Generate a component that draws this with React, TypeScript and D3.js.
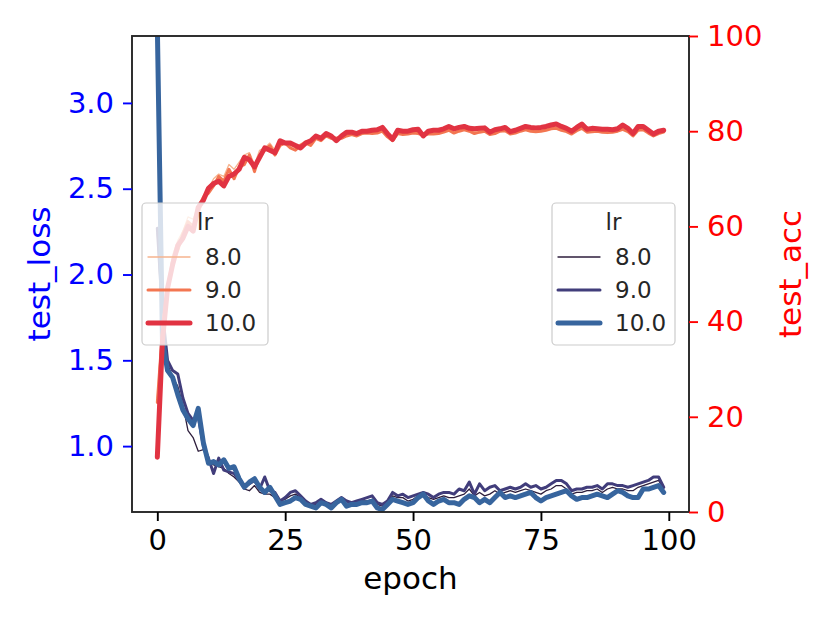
import { useEffect, useRef } from 'react';
import * as d3 from 'd3';

// values, one per epoch (0..99)
const epochs = d3.range(100);
const lrLabels = ['8.0', '9.0', '10.0'];

const lossLr8 = [
  2.24, 1.70, 1.48, 1.40, 1.35, 1.24, 1.09, 1.05, 0.97, 0.98,
  0.92, 0.89, 0.88, 0.87, 0.84, 0.82, 0.79, 0.75, 0.74, 0.77,
  0.73, 0.72, 0.72, 0.70, 0.68, 0.69, 0.71, 0.72, 0.70, 0.67,
  0.65, 0.66, 0.68, 0.66, 0.65, 0.67, 0.68, 0.66, 0.66, 0.67,
  0.68, 0.68, 0.69, 0.66, 0.65, 0.67, 0.71, 0.70, 0.70, 0.68,
  0.69, 0.71, 0.72, 0.70, 0.69, 0.70, 0.71, 0.70, 0.70, 0.71,
  0.72, 0.75, 0.71, 0.73, 0.71, 0.72, 0.74, 0.72, 0.73, 0.74,
  0.73, 0.74, 0.75, 0.74, 0.73, 0.72, 0.74, 0.75, 0.77, 0.77,
  0.75, 0.72, 0.73, 0.73, 0.74, 0.74, 0.75, 0.73, 0.75, 0.76,
  0.75, 0.75, 0.74, 0.74, 0.76, 0.77, 0.78, 0.79, 0.80, 0.75,
];
const lossLr9 = [
  2.27, 1.78, 1.50, 1.44, 1.42, 1.28, 1.19, 1.15, 1.17, 1.00,
  0.93, 0.84, 0.93, 0.86, 0.85, 0.84, 0.80, 0.77, 0.78, 0.80,
  0.75, 0.82, 0.74, 0.73, 0.68, 0.70, 0.73, 0.74, 0.71, 0.68,
  0.66, 0.67, 0.69, 0.67, 0.66, 0.68, 0.70, 0.68, 0.67, 0.68,
  0.69, 0.70, 0.71, 0.67, 0.66, 0.68, 0.73, 0.71, 0.72, 0.70,
  0.71, 0.72, 0.73, 0.72, 0.70, 0.72, 0.73, 0.73, 0.72, 0.75,
  0.74, 0.79, 0.72, 0.78, 0.74, 0.76, 0.77, 0.74, 0.75, 0.76,
  0.75, 0.76, 0.78, 0.76, 0.77, 0.75, 0.76, 0.78, 0.80, 0.80,
  0.78, 0.74, 0.75, 0.75, 0.76, 0.76, 0.77, 0.75, 0.78, 0.78,
  0.77, 0.77, 0.76, 0.77, 0.78, 0.79, 0.80, 0.82, 0.82, 0.76,
];
const lossLr10 = [
  3.45, 1.62, 1.44, 1.40, 1.30, 1.21, 1.16, 1.12, 1.22, 1.02,
  0.90, 0.91, 0.89, 0.92, 0.87, 0.88, 0.81, 0.76, 0.79, 0.81,
  0.76, 0.73, 0.76, 0.71, 0.66, 0.67, 0.68, 0.70, 0.69, 0.66,
  0.65, 0.64, 0.67, 0.66, 0.64, 0.67, 0.69, 0.65, 0.66, 0.66,
  0.67, 0.67, 0.68, 0.64, 0.63, 0.66, 0.69, 0.68, 0.67, 0.66,
  0.67, 0.70, 0.72, 0.68, 0.66, 0.68, 0.69, 0.67, 0.67, 0.66,
  0.69, 0.71, 0.70, 0.67, 0.69, 0.67, 0.70, 0.73, 0.70, 0.71,
  0.70, 0.71, 0.72, 0.73, 0.70, 0.68, 0.70, 0.71, 0.72, 0.73,
  0.74, 0.71, 0.69, 0.70, 0.70, 0.71, 0.72, 0.71, 0.70, 0.72,
  0.74, 0.73, 0.71, 0.70, 0.70, 0.75, 0.75, 0.76, 0.77, 0.73,
];

const accLr8 = [
  24, 40, 48, 54, 57, 59, 62, 61.5, 64.5, 66.5,
  68, 70, 71, 70.5, 73, 72, 73.5, 75, 75.5, 73,
  76, 76.5, 77.5, 76, 77.5, 77.8, 77, 76.5, 77.3, 78,
  77.5, 78.8, 78.2, 79.2, 79, 78.7, 79, 79.3, 79.5, 79.3,
  79.7, 79.8, 79.8, 79.9, 80.2, 79, 78.6, 79.8, 79.6, 79.7,
  79.9, 79.9, 79.5, 79.7, 79.8, 79.9, 80.1, 80.5, 80, 80.3,
  80.5, 80.2, 79.9, 80.1, 80.3, 79.6, 79.9, 80.3, 80.4, 79.7,
  79.9, 80.3, 80.6, 80.3, 80.2, 80.3, 80.5, 80.8, 80.9, 80.5,
  80.2, 79.8, 80.4, 80.9, 80.1, 80.2, 80.3, 80.1, 80, 80.1,
  80.3, 80.7, 80.2, 79.4, 80.5, 80.6, 79.9, 79.3, 79.8, 80.1,
];
const accLr9 = [
  23, 38, 46, 53, 55, 58.5, 61, 60, 63, 66,
  67, 68.5, 70.5, 69.5, 72, 70, 72.5, 73, 75, 71.5,
  75, 76, 77, 75, 77, 77.5, 76.5, 76, 77, 77.5,
  77, 78.5, 78, 79, 78.5, 78.5, 78.5, 79, 79.3, 79,
  79.5, 79.6, 79.5, 79.6, 80, 78.8, 78, 79.5, 79.3, 79.4,
  79.6, 79.5, 79.2, 79.4, 79.4, 79.5, 79.8, 80.2, 79.6, 80,
  80.3, 80, 79.5, 79.8, 80, 79.3, 79.5, 80, 80.1, 79.4,
  79.6, 80, 80.3, 80, 79.9, 80, 80.2, 80.5, 80.6, 80.2,
  79.9, 79.4, 80.1, 80.6, 79.8, 79.9, 80, 79.8, 79.7, 79.8,
  80, 80.4, 79.9, 79, 80.2, 80.3, 79.6, 79, 79.5, 79.8,
];
const accLr10 = [
  11.5, 36, 47, 52, 56, 57.5, 60, 59, 64, 65.5,
  68, 69, 69.5, 68.5, 70.5, 71, 72, 74.5, 74, 72.5,
  74.5, 76.5, 76, 75.5, 78, 77.5, 77.5, 77, 76.5, 77.5,
  78, 79, 78.5, 79.5, 79, 78, 79, 79.8, 79.8, 79.5,
  80, 80, 80.2, 80.3, 80.8, 79.5, 78.3, 80.2, 80, 80,
  80.3, 80.4, 79, 80, 80.2, 80.2, 80.5, 81, 80.5, 80.8,
  81, 80.6, 80.5, 80.6, 80.7, 79.8, 80.3, 80.5, 80.8, 79.9,
  80.2, 80.6, 81, 80.8, 80.7, 80.8, 81, 81.3, 81.5, 81,
  80.6, 80, 80.8, 81.5, 80.4, 80.6, 80.5, 80.4, 80.4, 80.3,
  80.5, 81.3, 80.6, 79.5, 81, 81, 80.2, 79.4, 80, 80.2,
];

const xTicks = [0, 25, 50, 75, 100];
const lossTicks = [1.0, 1.5, 2.0, 2.5, 3.0];
const accTicks = [0, 20, 40, 60, 80, 100];

const lossColors = ['#2e1e3c', '#413d7b', '#37659e'];
const accColors = ['#f6b48f', '#f37651', '#e13342'];
const widths = [1.3, 3, 5];

export default function App() {
  const svgRef = useRef<SVGSVGElement>(null);

  useEffect(() => {
    if (!svgRef.current) return;
    document.body.style.margin = '0';
    d3.select(svgRef.current).selectAll('*').remove();

    const width = 830;
    const height = 623;
    const margin = { top: 36, right: 141, bottom: 111, left: 132 };
    const font = 'DejaVu Sans, sans-serif';

    const svg = d3.select(svgRef.current)
      .attr('width', width)
      .attr('height', height)
      .style('font-family', font);

    svg.append('rect').attr('width', width).attr('height', height).attr('fill', 'white');

    const x = d3.scaleLinear().domain([-4.95, 103.95]).range([margin.left, width - margin.right]);
    const yLoss = d3.scaleLinear().domain([0.616, 3.39]).range([height - margin.bottom, margin.top]);
    const yAcc = d3.scaleLinear().domain([0, 100]).range([height - margin.bottom, margin.top]);

    svg.append('clipPath').attr('id', 'plot-clip')
      .append('rect')
      .attr('x', margin.left)
      .attr('y', margin.top)
      .attr('width', width - margin.left - margin.right)
      .attr('height', height - margin.top - margin.bottom);

    const lossSeries = [lossLr8, lossLr9, lossLr10];
    const accSeries = [accLr8, accLr9, accLr10];

    const lossLine = d3.line<number>().x((_, i) => x(epochs[i])).y(d => yLoss(d));
    const accLine = d3.line<number>().x((_, i) => x(epochs[i])).y(d => yAcc(d));

    const plot = svg.append('g').attr('clip-path', 'url(#plot-clip)');

    // loss lines (left axis)
    lossSeries.forEach((s, i) => {
      plot.append('path')
        .attr('d', lossLine(s))
        .attr('fill', 'none')
        .attr('stroke', lossColors[i])
        .attr('stroke-width', widths[i])
        .attr('stroke-linejoin', 'round')
        .attr('stroke-linecap', 'round');
    });

    // accuracy lines (right axis, drawn on top)
    accSeries.forEach((s, i) => {
      plot.append('path')
        .attr('d', accLine(s))
        .attr('fill', 'none')
        .attr('stroke', accColors[i])
        .attr('stroke-width', widths[i])
        .attr('stroke-linejoin', 'round')
        .attr('stroke-linecap', 'round');
    });

    // frame
    svg.append('rect')
      .attr('x', margin.left)
      .attr('y', margin.top)
      .attr('width', width - margin.left - margin.right)
      .attr('height', height - margin.top - margin.bottom)
      .attr('fill', 'none')
      .attr('stroke', '#262626')
      .attr('stroke-width', 1.9);

    // x axis
    const xAxis = svg.append('g')
      .attr('transform', `translate(0,${height - margin.bottom})`)
      .call(d3.axisBottom(x).tickValues(xTicks).tickFormat(d3.format('d')).tickSize(9).tickPadding(8));
    xAxis.select('.domain').remove();
    xAxis.selectAll('line').attr('stroke', '#000').attr('stroke-width', 1.9);
    xAxis.selectAll('text').attr('fill', '#000').style('font-size', '29px').style('font-family', font);

    // left axis
    const leftAxis = svg.append('g')
      .attr('transform', `translate(${margin.left},0)`)
      .call(d3.axisLeft(yLoss).tickValues(lossTicks).tickFormat(d3.format('.1f')).tickSize(9).tickPadding(9));
    leftAxis.select('.domain').remove();
    leftAxis.selectAll('line').attr('stroke', 'blue').attr('stroke-width', 1.9);
    leftAxis.selectAll('text').attr('fill', 'blue').style('font-size', '29px').style('font-family', font);

    // right axis
    const rightAxis = svg.append('g')
      .attr('transform', `translate(${width - margin.right},0)`)
      .call(d3.axisRight(yAcc).tickValues(accTicks).tickFormat(d3.format('d')).tickSize(9).tickPadding(9));
    rightAxis.select('.domain').remove();
    rightAxis.selectAll('line').attr('stroke', 'red').attr('stroke-width', 1.9);
    rightAxis.selectAll('text').attr('fill', 'red').style('font-size', '29px').style('font-family', font);

    // axis labels
    svg.append('text')
      .attr('x', (margin.left + width - margin.right) / 2)
      .attr('y', 589)
      .attr('text-anchor', 'middle')
      .attr('fill', '#000')
      .style('font-size', '31px')
      .text('epoch');

    svg.append('text')
      .attr('transform', `translate(50,${(margin.top + height - margin.bottom) / 2}) rotate(-90)`)
      .attr('text-anchor', 'middle')
      .attr('fill', 'blue')
      .style('font-size', '31px')
      .text('test_loss');

    svg.append('text')
      .attr('transform', `translate(801,${(margin.top + height - margin.bottom) / 2}) rotate(-90)`)
      .attr('text-anchor', 'middle')
      .attr('fill', 'red')
      .style('font-size', '31px')
      .text('test_acc');

    // legends
    const drawLegend = (x0: number, x1: number, colors: string[]) => {
      const g = svg.append('g');
      g.append('rect')
        .attr('x', x0).attr('y', 203)
        .attr('width', x1 - x0).attr('height', 142)
        .attr('rx', 4)
        .attr('fill', 'white').attr('fill-opacity', 0.8)
        .attr('stroke', '#cccccc').attr('stroke-width', 1.2);
      g.append('text')
        .attr('x', (x0 + x1) / 2).attr('y', 230)
        .attr('text-anchor', 'middle')
        .attr('fill', '#262626')
        .style('font-size', '23px')
        .text('lr');
      lrLabels.forEach((lab, i) => {
        const cy = 257 + i * 33;
        g.append('line')
          .attr('x1', x0 + 6).attr('x2', x0 + 48)
          .attr('y1', cy).attr('y2', cy)
          .attr('stroke', colors[i])
          .attr('stroke-width', widths[i])
          .attr('stroke-linecap', 'round');
        g.append('text')
          .attr('x', x0 + 63).attr('y', cy + 8)
          .attr('fill', '#262626')
          .style('font-size', '23px')
          .text(lab);
      });
    };
    drawLegend(552, 675, lossColors);
    drawLegend(142, 268, accColors);
  }, []);

  return <svg ref={svgRef} style={{ display: 'block' }}></svg>;
}
